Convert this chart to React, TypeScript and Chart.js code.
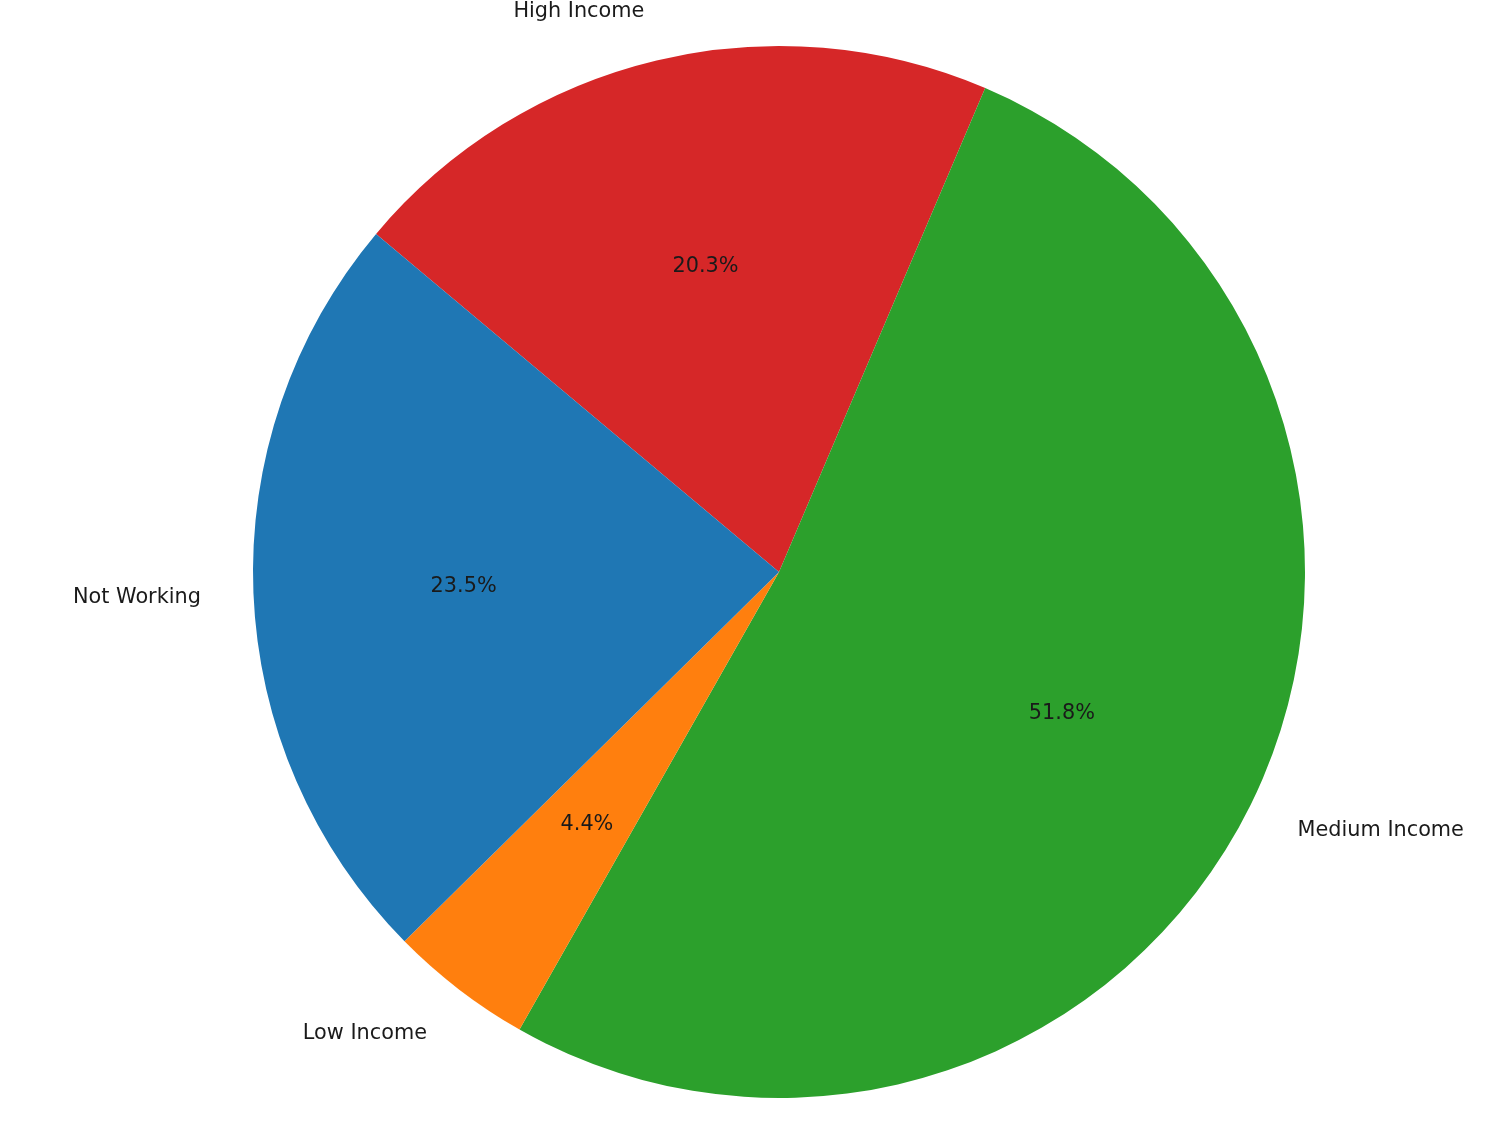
import React, { useEffect, useRef } from "react";
import { Chart, registerables } from "chart.js";

Chart.register(...registerables);

// Drawn clockwise in Chart.js (reverse of matplotlib's counter-clockwise order)
const categories = ["High Income", "Medium Income", "Low Income", "Not Working"];
const shares = [20.3, 51.8, 4.4, 23.5];
const colors = ["#d62728", "#2ca02c", "#ff7f0e", "#1f77b4"];

const FONT = "20.8px 'DejaVu Sans', sans-serif";
const TEXT_DY = 2;

const labelPlugin = {
  id: "pieLabels",
  afterDatasetsDraw(chart: any) {
    const ctx = chart.ctx;
    const meta = chart.getDatasetMeta(0);
    const data = chart.data.datasets[0].data as number[];
    const total = data.reduce((a, b) => a + b, 0);
    ctx.save();
    ctx.font = FONT;
    ctx.fillStyle = "#1a1a1a";
    meta.data.forEach((arc: any, i: number) => {
      const mid = (arc.startAngle + arc.endAngle) / 2;
      const r = arc.outerRadius;
      const cx = arc.x;
      const cy = arc.y;
      const c = Math.cos(mid);
      const s = Math.sin(mid);
      // category label at 1.1 r
      const lx = cx + 1.1 * r * c;
      const ly = cy + 1.1 * r * s + TEXT_DY;
      ctx.textBaseline = "middle";
      ctx.textAlign = Math.abs(c) < 1e-6 ? "center" : c < 0 ? "right" : "left";
      ctx.fillText(chart.data.labels[i], lx, ly);
      // percent at 0.6 r
      const px = cx + 0.6 * r * c;
      const py = cy + 0.6 * r * s + TEXT_DY;
      ctx.textAlign = "center";
      ctx.fillText(((data[i] / total) * 100).toFixed(1) + "%", px, py);
    });
    ctx.restore();
  },
};

export default function App() {
  const ref = useRef<HTMLCanvasElement>(null);
  useEffect(() => {
    if (!ref.current) return;
    const chart = new Chart(ref.current, {
      type: "pie",
      data: {
        labels: categories,
        datasets: [
          {
            data: shares,
            backgroundColor: colors,
            borderWidth: 0,
          },
        ],
      },
      options: {
        animation: false,
        responsive: false,
        rotation: -50,
        layout: { padding: { left: 253, right: 195, top: 46, bottom: 27 } },
        plugins: {
          legend: { display: false },
          tooltip: { enabled: false },
        },
      },
      plugins: [labelPlugin],
    });
    return () => chart.destroy();
  }, []);
  return (
    <div style={{ position: "fixed", left: 0, top: 0, width: 1500, height: 1125, background: "#fff" }}>
      <canvas ref={ref} width={1500} height={1125} style={{ width: 1500, height: 1125, display: "block" }} />
    </div>
  );
}
